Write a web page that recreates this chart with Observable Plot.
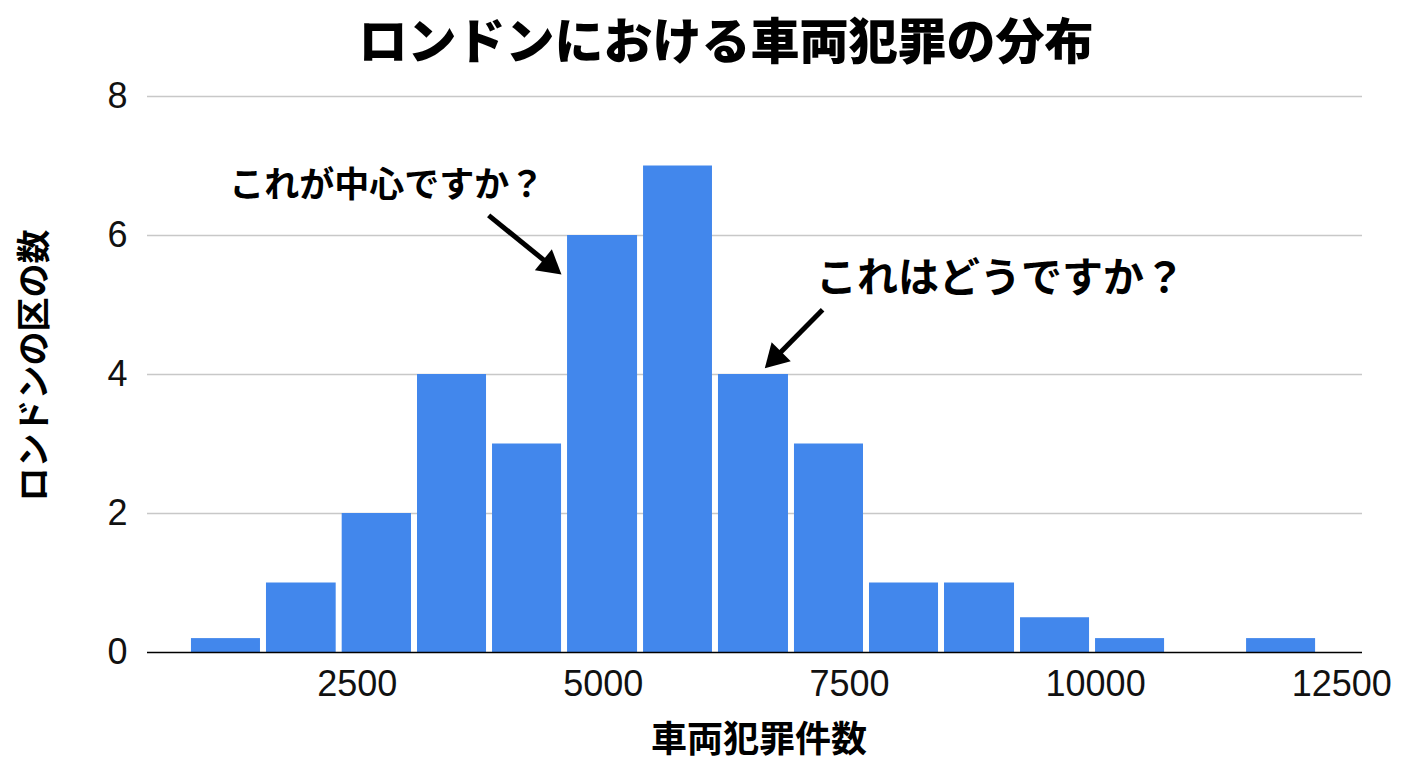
<!DOCTYPE html>
<html>
<head>
<meta charset="utf-8">
<script src="https://cdn.jsdelivr.net/npm/d3@7"></script>
<script src="https://cdn.jsdelivr.net/npm/@observablehq/plot@0.6"></script>
<style>
  html, body { margin: 0; padding: 0; background: #fff; }
  #wrap { width: 1408px; height: 768px; overflow: hidden; }
  #title {
    height: 76px; line-height: 76px; box-sizing: border-box; padding-left: 44px;
    text-align: center; font-family: "Noto Sans CJK JP", sans-serif; font-weight: 900;
    font-size: 49px; color: #000;
  }
</style>
</head>
<body>
<div id="wrap">
  <div id="title">ロンドンにおける車両犯罪の分布</div>
  <div id="chart"></div>
</div>
<script>
// ---- data ----
const binEdges = [786, 1548, 2317, 3082, 3844, 4606, 5378, 6139, 6911, 7673, 8435, 9207, 9969, 10731, 11503, 12265];
const counts   = [0.2, 1, 2, 4, 3, 6, 7, 4, 3, 1, 1, 0.5, 0.2, 0, 0.2];
const xTicks = [2500, 5000, 7500, 10000, 12500];
const yTicks = [0, 2, 4, 6, 8];
const xTitle = "車両犯罪件数";
const yTitle = "ロンドンの区の数";
const noteTexts = ["これが中心ですか？", "これはどうですか？"];
const noteX = [2800, 9034];
const noteY = [6.72, 5.37];
const arrowX1 = [3835, 7227];
const arrowY1 = [6.29, 4.93];
const arrowX2 = [4575, 6640];
const arrowY2 = [5.44, 4.09];

// ---- tables built from the arrays ----
const bins = counts.map((c, i) => ({x1: binEdges[i], x2: binEdges[i + 1], y: c}));
const notes = noteTexts.map((t, i) => ({text: t, x: noteX[i], y: noteY[i]}));
const arrows = arrowX1.map((d, i) => ({x1: d, y1: arrowY1[i], x2: arrowX2[i], y2: arrowY2[i]}));

const W = 1408, H = 692;
const cjk = "'Noto Sans CJK JP', sans-serif";

function make(extra) {
  return Plot.plot({
    width: W, height: H,
    marginLeft: 147, marginRight: 46, marginTop: 20, marginBottom: 116,
    style: {fontFamily: "'Liberation Sans', Arial, 'Noto Sans CJK JP', sans-serif", fontSize: "36px", color: "#000", background: "#fff"},
    x: {domain: [370, 12711]},
    y: {domain: [0, 8]},
    marks: [
      Plot.gridY(yTicks.filter(d => d > 0), {stroke: "#c8c8c8", strokeOpacity: 1, strokeWidth: 1.4}),
      Plot.rectY(bins.filter(d => d.y > 0), {x1: "x1", x2: "x2", y: "y", fill: "#4287ec", insetLeft: 3, insetRight: 3}),
      Plot.ruleY([0], {stroke: "#000", strokeWidth: 1.6}),
      Plot.axisX({ticks: xTicks, tickFormat: "d", tickSize: 0, tickPadding: 18, label: null, fill: "#111"}),
      Plot.axisY({ticks: yTicks, tickSize: 0, tickPadding: 20, label: null, fill: "#111"}),
      Plot.text([yTitle], {frameAnchor: "left", textAnchor: "middle", lineAnchor: "middle", dx: -112, dy: -9, rotate: -90, text: d => d, fontFamily: cjk, fontWeight: 700, fontSize: 34, fill: "#000"}),
      Plot.text([xTitle], {frameAnchor: "bottom", textAnchor: "middle", dx: 4, dy: 88, lineAnchor: "middle", text: d => d, fontFamily: cjk, fontWeight: 700, fontSize: 36, fill: "#000"}),
      Plot.text(notes.slice(0, 1), {x: "x", y: "y", text: "text", fontFamily: cjk, fontWeight: 700, fontSize: 35, fill: "#000"}),
      Plot.text(notes.slice(1), {x: "x", y: "y", text: "text", fontFamily: cjk, fontWeight: 700, fontSize: 41, fill: "#000"}),
      Plot.arrow(arrows, {x1: "x1", y1: "y1", x2: "x2", y2: "y2", stroke: "#000", strokeWidth: 5, headLength: 0, insetEnd: 12, strokeLinecap: "butt"}),
      ...extra
    ]
  });
}

// first pass to read the scales, then add filled arrow heads
const probe = make([]);
const sx = probe.scale("x"), sy = probe.scale("y");
const r = 10;
const half = Math.sqrt(r * r * Math.PI / (3 * Math.sqrt(3)));
const heads = arrows.map(a => {
  const ang = Math.atan2(sy.apply(a.y2) - sy.apply(a.y1), sx.apply(a.x2) - sx.apply(a.x1));
  return Plot.dot([a], {
    x: "x2", y: "y2", symbol: "triangle", r, fill: "#000", stroke: "none",
    rotate: ang * 180 / Math.PI + 90,
    dx: -2 * half * Math.cos(ang), dy: -2 * half * Math.sin(ang)
  });
});
document.getElementById("chart").appendChild(make(heads));
</script>
</body>
</html>
